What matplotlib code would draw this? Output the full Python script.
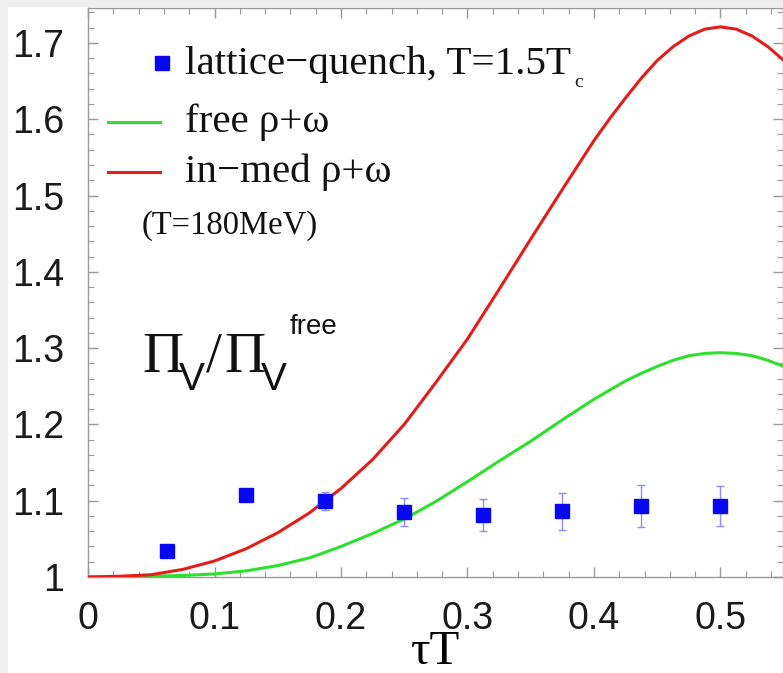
import matplotlib
matplotlib.use('Agg')
import matplotlib.pyplot as plt
from matplotlib.ticker import MultipleLocator
from matplotlib.patches import Rectangle

# lattice points (quenched, T=1.5Tc)
tau_lat = [0.0625, 0.125, 0.1875, 0.25, 0.3125, 0.375, 0.4375, 0.5]
ratio_lat = [1.034, 1.107, 1.100, 1.085, 1.081, 1.086, 1.093, 1.093]
err_lat = [0.004, 0.004, 0.012, 0.018, 0.021, 0.024, 0.027, 0.026]

# model curves
tau_curve = [0.0, 0.025, 0.05, 0.075, 0.1, 0.125, 0.15, 0.175, 0.2, 0.225, 0.25,
             0.275, 0.3, 0.325, 0.35, 0.375, 0.4, 0.4125, 0.425, 0.4375, 0.45, 0.4625,
             0.475, 0.4875, 0.5, 0.5125, 0.525, 0.5375, 0.55]
free_curve = [1.000, 1.000, 1.001, 1.002, 1.004, 1.008, 1.015, 1.025, 1.040, 1.057, 1.076,
              1.099, 1.125, 1.152, 1.178, 1.206, 1.233, 1.245, 1.257, 1.267, 1.276, 1.284,
              1.290, 1.293, 1.294, 1.293, 1.290, 1.284, 1.276]
inmed_curve = [1.000, 1.001, 1.003, 1.010, 1.021, 1.037, 1.058, 1.084, 1.116, 1.154, 1.200,
               1.255, 1.312, 1.377, 1.443, 1.508, 1.572, 1.601, 1.628, 1.654, 1.677, 1.695,
               1.709, 1.718, 1.721, 1.718, 1.709, 1.695, 1.677]

W, H = 783, 673
x0, x1, ytop, ybot = 88, 783, 8, 577

def axpos(x, y):
    # pixel -> axes fraction
    return (x - x0) / (x1 - x0), (ybot - y) / (ybot - ytop)

fig = plt.figure(figsize=(W / 100, H / 100), dpi=100, facecolor='#efefef')
fig.patches.append(Rectangle((8 / W, 0), 1, 1 - 7 / H, transform=fig.transFigure,
                             facecolor='white', edgecolor='none', zorder=-10))
ax = fig.add_axes([x0 / W, 1 - ybot / H, (x1 - x0) / W, (ybot - ytop) / H])

ax.plot(tau_curve, free_curve, color='#2ee02e', lw=2.2, zorder=3)
ax.plot(tau_curve, inmed_curve, color='#e41c1c', lw=2.2, zorder=3)
ax.errorbar(tau_lat, ratio_lat, yerr=err_lat, fmt='s', color='#0808f0', ms=9.5,
            ecolor='#8c8cff', elinewidth=1, capsize=3, capthick=1, zorder=5)

ax.set_xlim(0, (x1 - x0) / 1265)
ax.set_ylim(1.0, 1 + (ybot - ytop) / 763)
ax.xaxis.set_minor_locator(MultipleLocator(0.02))
ax.yaxis.set_minor_locator(MultipleLocator(0.02))
ax.set_xticks([0, 0.1, 0.2, 0.3, 0.4, 0.5])
ax.set_xticklabels(['0', '0.1', '0.2', '0.3', '0.4', '0.5'])
ax.set_yticks([1.0, 1.1, 1.2, 1.3, 1.4, 1.5, 1.6, 1.7])
ax.set_yticklabels(['1', '1.1', '1.2', '1.3', '1.4', '1.5', '1.6', '1.7'])
ax.tick_params(which='both', direction='in', top=True, right=True, color='#999999',
               labelsize=27, pad=17, labelcolor='#1a1a1a')
ax.tick_params(which='major', length=7, width=1)
ax.tick_params(which='minor', length=4, width=0.8)
for lab in ax.get_xticklabels() + ax.get_yticklabels():
    lab.set_family('Liberation Sans')
for s in ax.spines.values():
    s.set_color('#999999')
    s.set_linewidth(1)

ax.set_xlabel('\u03c4T', family='Liberation Serif', fontsize=35, labelpad=-5)

# legend drawn by hand
ax.plot(*axpos(162, 63), 's', color='#0808f0', ms=9.5, transform=ax.transAxes, clip_on=False)
gx0, gy = axpos(108, 122)
gx1, _ = axpos(160, 122)
ax.plot([gx0, gx1], [gy, gy], color='#2ee02e', lw=2.2, transform=ax.transAxes)
rx0, ry = axpos(108, 172)
ax.plot([rx0, gx1], [ry, ry], color='#e41c1c', lw=2.2, transform=ax.transAxes)
serif = dict(family='Liberation Serif', ha='left', transform=ax.transAxes, color='#111111')
sans = dict(family='Liberation Sans', ha='left', va='baseline', transform=ax.transAxes,
            color='#111111')
t1 = ax.text(*axpos(185, 74), 'lattice\u2212quench, T=1.5T', fontsize=29.5, va='baseline', **serif)
ax.text(*axpos(185, 132), 'free \u03c1+\u03c9', fontsize=29.5, va='baseline', **serif)
ax.text(*axpos(185, 182), 'in\u2212med \u03c1+\u03c9', fontsize=29.5, va='baseline', **serif)
ax.text(*axpos(142, 226), '(T=180MeV)', fontsize=23.5, va='center', **serif)

# small subscript c after T
fig.canvas.draw()
bb = t1.get_window_extent()
ax.text(*axpos(bb.x1 + 3, 87), 'c', fontsize=14, va='baseline', **serif)

# Pi_V / Pi_V^free
ax.text(*axpos(142, 372), '\u03a0', fontsize=41, va='baseline', **serif)
ax.text(*axpos(179, 390), 'V', fontsize=28, **sans)
ax.text(*axpos(206, 372), '/', fontsize=41, va='baseline', **serif)
ax.text(*axpos(224, 372), '\u03a0', fontsize=41, va='baseline', **serif)
ax.text(*axpos(261, 390), 'V', fontsize=28, **sans)
ax.text(*axpos(290, 334), 'free', fontsize=20, **sans)

fig.savefig('out.png', dpi=100, facecolor=fig.get_facecolor())
